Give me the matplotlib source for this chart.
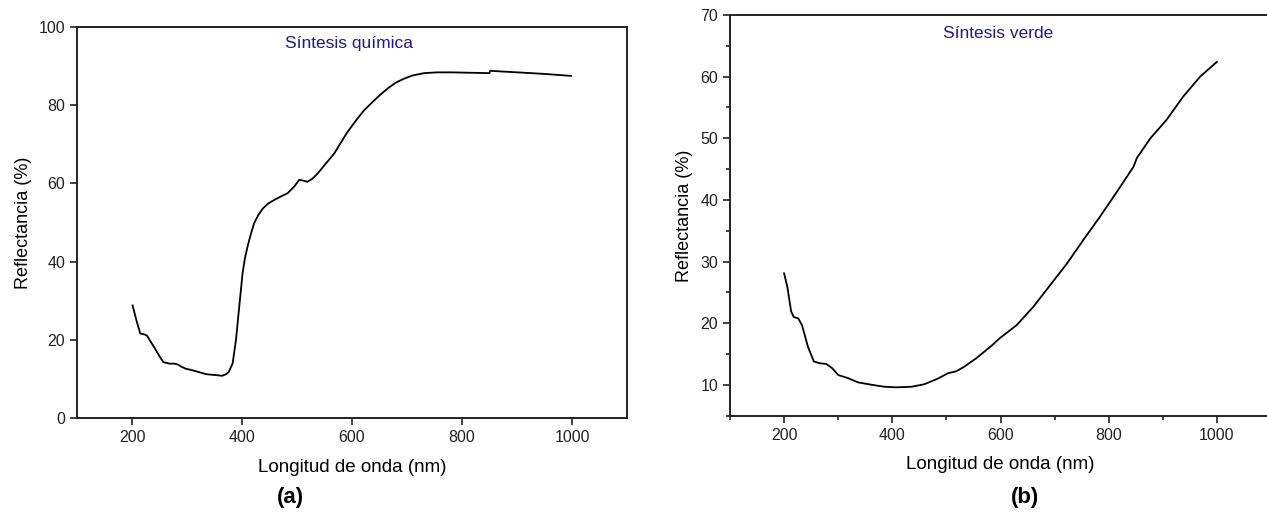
import matplotlib
matplotlib.use("Agg")
import matplotlib.pyplot as plt
from matplotlib.ticker import MultipleLocator

plt.rcParams['font.family'] = ['Liberation Sans', 'DejaVu Sans']

# Panel (a): Síntesis química
wl_a = [201, 208, 215, 222, 227, 235, 242, 250, 257, 268, 277, 283, 290, 298, 310, 320, 335, 350,
        364, 371, 376, 383, 389, 395, 401, 405, 410, 416, 422, 430, 438, 448, 459, 470, 483,
        495, 504, 512, 519, 528, 538, 552, 568, 580, 592, 610, 622, 635, 650, 665, 680, 695,
        710, 731, 755, 780, 815, 850, 851, 875, 901, 950, 998]
ref_a = [28.8, 25.0, 21.6, 21.4, 21.1, 19.3, 17.7, 15.8, 14.3, 13.9, 13.9, 13.7, 13.1, 12.6, 12.2, 11.8,
         11.2, 11.0, 10.8, 11.2, 11.8, 14.0, 19.9, 28.5, 37.0, 40.6, 43.8, 47.0, 49.8, 52.0, 53.6,
         54.9, 55.8, 56.6, 57.5, 59.2, 60.9, 60.7, 60.4, 61.2, 62.6, 65.0, 67.7, 70.5, 73.2, 76.6,
         78.7, 80.5, 82.5, 84.3, 85.8, 86.8, 87.6, 88.2, 88.4, 88.4, 88.3, 88.2, 88.8, 88.6, 88.4,
         88.0, 87.5]

# Panel (b): Síntesis verde
wl_b = [200, 206, 213, 218, 226, 233, 244, 255, 266, 278, 289, 300, 318, 337, 363, 385,
        407, 436, 459, 484, 503, 518, 532, 555, 584, 599, 630, 661, 692, 723, 753, 784,
        815, 846, 852, 877, 907, 938, 969, 1000]
ref_b = [28.1, 25.9, 21.9, 21.0, 20.8, 19.7, 16.2, 13.8, 13.5, 13.4, 12.7, 11.6, 11.1, 10.4, 10.0, 9.7,
         9.6, 9.7, 10.1, 11.0, 11.9, 12.2, 12.9, 14.3, 16.4, 17.6, 19.7, 22.7, 26.2, 29.7, 33.5, 37.3,
         41.3, 45.4, 46.8, 50.0, 53.0, 56.8, 60.0, 62.4]

xticks = [200, 400, 600, 800, 1000]
yticks_a = [0, 20, 40, 60, 80, 100]
yticks_b = [10, 20, 30, 40, 50, 60, 70]

xlabel = "Longitud de onda (nm)"
ylabel = "Reflectancia (%)"
title_a = "Síntesis química"
title_b = "Síntesis verde"
title_color = "#1c1c8c"

fig = plt.figure(figsize=(12.67, 5.18), dpi=100)
W, H = 1267, 518

ax1 = fig.add_axes([77 / W, 1 - 418 / H, 550 / W, 391 / H])
ax2 = fig.add_axes([730 / W, 1 - 415.7 / H, 541 / W, 400.7 / H])

for ax in (ax1, ax2):
    for s in ax.spines.values():
        s.set_linewidth(1.4)
        s.set_color('#222222')
    ax.tick_params(direction='out', length=5, width=1.2, labelsize=11.5,
                   colors='#222222', top=False, right=False)
    ax.tick_params(which='minor', direction='out', length=3, width=1.2, colors='#222222')

ax1.plot(wl_a, ref_a, color='black', lw=1.3)
ax1.set_xlim(100, 1100)
ax1.set_ylim(0, 100)
ax1.set_xticks(xticks)
ax1.set_yticks(yticks_a)
ax1.set_xlabel(xlabel, fontsize=13.5, labelpad=10)
ax1.set_ylabel(ylabel, fontsize=13, labelpad=5)
ax1.text(0.495, 0.957, title_a, transform=ax1.transAxes, ha='center', va='center',
         fontsize=12.5, color=title_color)

ax2.plot(wl_b, ref_b, color='black', lw=1.3)
ax2.set_xlim(100, 1100)
ax2.set_ylim(5, 70)
ax2.set_xticks(xticks)
ax2.set_yticks(yticks_b)
ax2.xaxis.set_minor_locator(MultipleLocator(100))
ax2.yaxis.set_minor_locator(MultipleLocator(5))
ax2.set_xlabel(xlabel, fontsize=13.5, labelpad=10)
ax2.set_ylabel(ylabel, fontsize=13, labelpad=5)
ax2.text(0.495, 0.955, title_b, transform=ax2.transAxes, ha='center', va='center',
         fontsize=12.5, color=title_color)

fig.text(290 / W, 1 - 497 / H, "(a)", ha='center', va='center', fontsize=16, fontweight='bold')
fig.text(1025 / W, 1 - 497 / H, "(b)", ha='center', va='center', fontsize=16, fontweight='bold')

fig.savefig("out.png", dpi=100)
